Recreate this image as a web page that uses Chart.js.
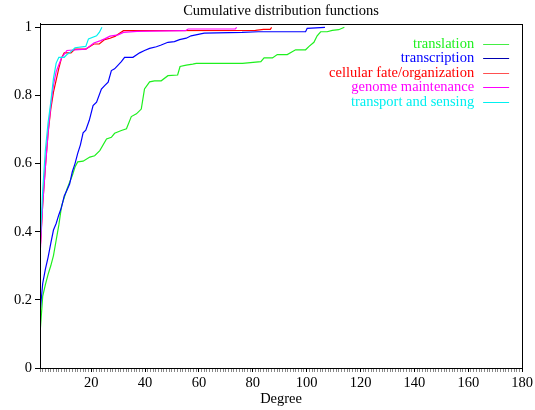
<!DOCTYPE html>
<html>
<head>
<meta charset="utf-8">
<script src="https://cdn.jsdelivr.net/npm/chart.js@4"></script>
<style>
  body { margin: 0; background: #fff; }
  canvas { display: block; }
</style>
</head>
<body>
<canvas id="cdf-chart" width="535" height="410"></canvas>
<script>
const seriesNames = [
    "translation",
    "transcription",
    "cellular fate/organization",
    "genome maintenance",
    "transport and sensing"
];

const translationDeg = [1, 2, 3, 4, 5, 6, 7, 8, 9, 10, 11, 12, 13, 14, 15, 17, 19.5, 21.3, 23.2, 25.7, 27.5, 28.7, 31.2, 33.1, 34.9, 36.8, 38.6, 39.8, 41.7, 43.5, 46, 48.5, 52.1, 53, 55.3, 57.7, 59, 76.2, 83, 84.2, 87.3, 89.1, 92.8, 95.9, 99.6, 100.9, 102.7, 103.9, 105.2, 107.6, 109.5, 111.9, 114];
const translationCdf = [0.10, 0.21, 0.245, 0.275, 0.30, 0.33, 0.375, 0.42, 0.475, 0.50, 0.525, 0.545, 0.565, 0.59, 0.605, 0.607, 0.619, 0.623, 0.638, 0.672, 0.677, 0.689, 0.697, 0.702, 0.738, 0.746, 0.76, 0.819, 0.84, 0.843, 0.843, 0.858, 0.86, 0.885, 0.889, 0.892, 0.894, 0.894, 0.899, 0.91, 0.91, 0.92, 0.92, 0.934, 0.934, 0.944, 0.956, 0.975, 0.987, 0.987, 0.991, 0.993, 1.0];

const transcriptionDeg = [1, 2, 3, 4, 5, 6, 7, 8, 9, 10, 11, 12, 13, 14, 15, 16, 17, 18, 19.3, 20.7, 22, 23.8, 25, 26.3, 27.5, 28.7, 31.2, 32.4, 35.5, 38, 39.8, 41.7, 44.2, 46, 48.5, 50.9, 52.8, 55.3, 57.1, 60.2, 62, 76, 82, 99.6, 100.2, 106.8];
const transcriptionCdf = [0.16, 0.248, 0.29, 0.325, 0.366, 0.405, 0.424, 0.45, 0.472, 0.505, 0.522, 0.54, 0.576, 0.60, 0.63, 0.655, 0.69, 0.698, 0.727, 0.77, 0.78, 0.819, 0.829, 0.839, 0.873, 0.878, 0.899, 0.912, 0.912, 0.925, 0.932, 0.938, 0.943, 0.948, 0.956, 0.958, 0.964, 0.968, 0.975, 0.98, 0.983, 0.985, 0.987, 0.987, 0.997, 1.0];

const cellularDeg = [1, 2, 3, 4, 5, 6, 7, 8, 9, 10, 12.5, 14, 18, 21, 23, 25, 27, 29, 30, 32, 81, 84, 86.5, 87];
const cellularCdf = [0.34, 0.48, 0.59, 0.69, 0.76, 0.81, 0.845, 0.88, 0.91, 0.925, 0.925, 0.936, 0.936, 0.951, 0.951, 0.964, 0.968, 0.974, 0.98, 0.99, 0.991, 0.994, 0.994, 1.0];

const genomeDeg = [1, 2, 3, 4, 5, 6, 7, 8, 9, 11, 18, 21, 23.5, 25, 27, 30, 32, 37, 55, 56, 73.5, 74];
const genomeCdf = [0.325, 0.48, 0.59, 0.69, 0.77, 0.83, 0.87, 0.89, 0.91, 0.932, 0.936, 0.954, 0.961, 0.966, 0.974, 0.978, 0.985, 0.988, 0.99, 0.995, 0.995, 1.0];

const transportDeg = [1, 2, 3, 4, 5, 6, 7, 8, 10, 11, 12, 14, 18, 19, 22, 23, 24];
const transportCdf = [0.36, 0.52, 0.64, 0.72, 0.78, 0.85, 0.895, 0.912, 0.912, 0.92, 0.925, 0.94, 0.944, 0.966, 0.975, 0.985, 1.0];

const yTicks = [0, 0.2, 0.4, 0.6, 0.8, 1];
const xTicks = [20, 40, 60, 80, 100, 120, 140, 160, 180];

const lineColors = ["#1ef01e", "#0000ff", "#ff0000", "#ff00ff", "#00f0f0"];
const legendLineColors = ["#44ee44", "#0000b0", "#ff5050", "#ff00ff", "#00f0f0"];
const serif = "'Liberation Serif', 'DejaVu Serif', serif";
const fontSize = 14.5;

function toPoints(xs, ys)
{
    return xs.map((x, i) => ({ x: x, y: ys[i] }));
}

const allSeries = [
    toPoints(translationDeg, translationCdf),
    toPoints(transcriptionDeg, transcriptionCdf),
    toPoints(cellularDeg, cellularCdf),
    toPoints(genomeDeg, genomeCdf),
    toPoints(transportDeg, transportCdf)
];

// gnuplot-style key: right aligned coloured text with sample line after it
const keyPlugin = {
    id: 'gnuKey',
    afterDatasetsDraw(chart) {
        const ctx = chart.ctx;
        const area = chart.chartArea;
        ctx.save();
        // frame round the plot
        ctx.strokeStyle = '#000';
        ctx.lineWidth = 1;
        ctx.strokeRect(Math.round(area.left) + 0.5, Math.round(area.top) + 0.5,
            Math.round(area.right - area.left), Math.round(area.bottom - area.top));
        ctx.font = fontSize + "px " + serif;
        ctx.textAlign = 'right';
        ctx.textBaseline = 'middle';
        seriesNames.forEach((name, i) => {
            let y = area.top + 20 + i * 14.5;
            ctx.fillStyle = lineColors[i];
            ctx.fillText(name, area.right - 48, y);
            ctx.strokeStyle = legendLineColors[i];
            ctx.beginPath();
            ctx.moveTo(area.right - 39, Math.round(y) + 0.5);
            ctx.lineTo(area.right - 13, Math.round(y) + 0.5);
            ctx.stroke();
        });
        ctx.restore();
    }
};

new Chart(document.getElementById("cdf-chart"), {
    type: 'line',
    data: {
        datasets: allSeries.map((pts, i) => ({
            label: seriesNames[i],
            data: pts,
            borderColor: lineColors[i],
            borderWidth: 1.2,
            pointRadius: 0,
            tension: 0,
            fill: false,
            order: seriesNames.length - i
        }))
    },
    options: {
        responsive: false,
        animation: false,
        layout: { padding: { top: 0, right: 11, left: 0, bottom: 0 } },
        plugins: {
            legend: { display: false },
            tooltip: { enabled: false },
            title: {
                display: true,
                fullSize: false,
                text: "Cumulative distribution functions",
                color: '#000',
                font: { family: serif, size: fontSize, weight: 'normal' },
                padding: { top: 2, bottom: 4.5 }
            }
        },
        scales: {
            x: {
                type: 'linear',
                min: 1,
                max: 180,
                afterFit: (scale) => { scale.height = 42; },
                afterBuildTicks: (scale) => {
                    let t = [];
                    for (let v = 1; v <= 180; v++) t.push({ value: v });
                    scale.ticks = t;
                },
                ticks: {
                    autoSkip: false,
                    maxRotation: 0,
                    padding: 2,
                    color: '#000',
                    font: { family: serif, size: fontSize },
                    callback: (v) => xTicks.includes(v) ? String(v) : ''
                },
                grid: {
                    drawOnChartArea: false,
                    drawTicks: true,
                    tickLength: 4,
                    tickColor: (c) => xTicks.includes(c.tick && c.tick.value) ? '#000' : '#888'
                },
                border: { display: true, color: '#000' },
                title: {
                    display: true,
                    text: 'Degree',
                    color: '#000',
                    font: { family: serif, size: fontSize },
                    padding: { top: 0, bottom: 2 }
                }
            },
            y: {
                type: 'linear',
                min: 0,
                max: 1.01,
                afterFit: (scale) => { scale.width = 40; },
                afterBuildTicks: (scale) => {
                    scale.ticks = yTicks.map(v => ({ value: v }));
                },
                ticks: {
                    padding: 3,
                    color: '#000',
                    font: { family: serif, size: fontSize },
                    callback: (v) => String(+v.toFixed(1))
                },
                grid: {
                    drawOnChartArea: false,
                    drawTicks: true,
                    tickLength: 5,
                    tickColor: '#000'
                },
                border: { display: true, color: '#000' }
            }
        }
    },
    plugins: [keyPlugin]
});
</script>
</body>
</html>
